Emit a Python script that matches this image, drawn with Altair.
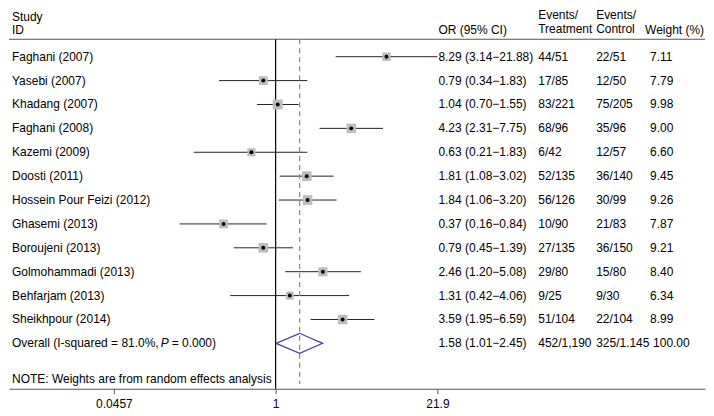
import altair as alt
import pandas as pd

studies = ["Faghani (2007)", "Yasebi (2007)", "Khadang (2007)", "Faghani (2008)",
           "Kazemi (2009)", "Doosti (2011)", "Hossein Pour Feizi (2012)", "Ghasemi (2013)",
           "Boroujeni (2013)", "Golmohammadi (2013)", "Behfarjam (2013)", "Sheikhpour (2014)"]
odds = [8.29, 0.79, 1.04, 4.23, 0.63, 1.81, 1.84, 0.37, 0.79, 2.46, 1.31, 3.59]
ci_lo = [3.14, 0.34, 0.70, 2.31, 0.21, 1.08, 1.06, 0.16, 0.45, 1.20, 0.42, 1.95]
ci_hi = [21.88, 1.83, 1.55, 7.75, 1.83, 3.02, 3.20, 0.84, 1.39, 5.08, 4.06, 6.59]
ev_treat = ["44/51", "17/85", "83/221", "68/96", "6/42", "52/135", "56/126", "10/90",
            "27/135", "29/80", "9/25", "51/104"]
ev_ctrl = ["22/51", "12/50", "75/205", "35/96", "12/57", "36/140", "30/99", "21/83",
           "36/150", "15/80", "9/30", "22/104"]
weights = [7.11, 7.79, 9.98, 9.00, 6.60, 9.45, 9.26, 7.87, 9.21, 8.40, 6.34, 8.99]

overall_or = 1.58
overall_lo = 1.01
overall_hi = 2.45
overall_treat = "452/1,190"
overall_ctrl = "325/1.145"
overall_weight = "100.00"

tick_values = [0.0457, 1, 21.9]

FONT = "Liberation Sans"
n = len(studies)
rows = list(range(1, n + 1))
overall_row = n + 1

df = pd.DataFrame({
    "row": rows, "study": studies, "or": odds, "lo": ci_lo, "hi": ci_hi,
    "treat": ev_treat, "ctrl": ev_ctrl, "weight": weights,
})
df["ortext"] = [f"{o:.2f} ({l:.2f}\u2212{h:.2f})" for o, l, h in zip(odds, ci_lo, ci_hi)]
df["wtext"] = [f"{w:.2f}" for w in weights]

xscale = alt.Scale(type="log", domain=[0.00618, 3606], nice=False)
yscale = alt.Scale(domain=[-0.86, 14.90], reverse=True, nice=False, zero=False)

def Y(field="row:Q"):
    return alt.Y(field, scale=yscale, axis=None)

base = alt.Chart(df)

ci = base.mark_rule(color="#222222", strokeWidth=1).encode(
    x=alt.X("lo:Q", scale=xscale, title=None,
            axis=alt.Axis(values=tick_values, format="~g", grid=False, domainColor="#555555",
                          tickColor="#555555", tickSize=5, labelFontSize=12, labelFont=FONT,
                          labelColor="black", labelPadding=5, labelFlush=False)),
    x2="hi:Q",
    y=Y(),
)
squares = base.mark_square(color="#bdbdbd", opacity=1).encode(
    x=alt.X("or:Q", scale=xscale),
    y=Y(),
    size=alt.Size("weight:Q", scale=alt.Scale(domain=[0, 10], range=[0, 100]), legend=None),
)
dots = base.mark_circle(color="black", size=16, opacity=1).encode(
    x=alt.X("or:Q", scale=xscale),
    y=Y(),
)

def col_text(field, xpx, data):
    return alt.Chart(data).mark_text(align="left", baseline="middle", font=FONT, fontSize=12,
                                     color="black").encode(
        x=alt.value(xpx), y=Y(), text=f"{field}:N",
    )

def label(txt, xpx, row, style="normal"):
    d = pd.DataFrame({"row": [row], "txt": [txt]})
    return alt.Chart(d).mark_text(align="left", baseline="middle", font=FONT, fontSize=12,
                                  color="black", fontStyle=style).encode(
        x=alt.value(xpx), y=Y(), text="txt:N",
    )

t_study = col_text("study", 3, df)
t_or = col_text("ortext", 430, df)
t_treat = col_text("treat", 530, df)
t_ctrl = col_text("ctrl", 588, df)
t_w = col_text("wtext", 642, df)

ov = pd.DataFrame({
    "row": [overall_row],
    "ortext": [f"{overall_or:.2f} ({overall_lo:.2f}\u2212{overall_hi:.2f})"],
    "treat": [overall_treat], "ctrl": [overall_ctrl], "wtext": [overall_weight],
})
o_or = col_text("ortext", 430, ov)
o_treat = col_text("treat", 530, ov)
o_ctrl = col_text("ctrl", 588, ov)
o_w = col_text("wtext", 645, ov)

o_lab1 = label("Overall (I-squared = 81.0%,", 3, overall_row)
o_lab2 = label("P", 152, overall_row, "italic")
o_lab3 = label("= 0.000)", 163, overall_row)

diamond_df = pd.DataFrame({
    "x": [overall_lo, overall_or, overall_hi, overall_or, overall_lo],
    "row": [overall_row, overall_row - 0.42, overall_row, overall_row + 0.42, overall_row],
    "ord": [0, 1, 2, 3, 4],
})
diamond = alt.Chart(diamond_df).mark_line(color="#4b3d9a", strokeWidth=1.2).encode(
    x=alt.X("x:Q", scale=xscale), y=Y(), order="ord:Q",
)

headers = [
    label("Study", 3, -0.68), label("ID", 3, -0.1),
    label("OR (95% CI)", 430, -0.1),
    label("Events/", 530, -0.76), label("Treatment", 530, -0.16),
    label("Events/", 588, -0.76), label("Control", 588, -0.16),
    label("Weight (%)", 637, -0.1),
]

hline = alt.Chart(pd.DataFrame({"row": [0.27]})).mark_rule(color="#555555", strokeWidth=1.2).encode(
    x=alt.value(0), x2=alt.value(697), y=Y(),
)

vdf = pd.DataFrame({"x": [1.0], "r0": [0.27], "r1": [14.90]})
vline = alt.Chart(vdf).mark_rule(color="black", strokeWidth=1.2).encode(
    x=alt.X("x:Q", scale=xscale), y=Y("r0:Q"), y2="r1:Q",
)
ddf = pd.DataFrame({"x": [overall_or], "r0": [0.27], "r1": [14.7]})
dline = alt.Chart(ddf).mark_rule(color="#b07a62", strokeWidth=1.2, strokeDash=[5, 4]).encode(
    x=alt.X("x:Q", scale=xscale), y=Y("r0:Q"), y2="r1:Q",
)

note = label("NOTE: Weights are from random effects analysis", 3, 14.48)

chart = alt.layer(
    ci, hline, vline, dline, squares, dots, diamond,
    t_study, t_or, t_treat, t_ctrl, t_w,
    o_or, o_treat, o_ctrl, o_w, o_lab1, o_lab2, o_lab3, note, *headers,
).properties(width=697, height=377, padding=0).configure_view(stroke=None)

chart.save("out.html", embed_options={"renderer": "svg", "actions": False})
